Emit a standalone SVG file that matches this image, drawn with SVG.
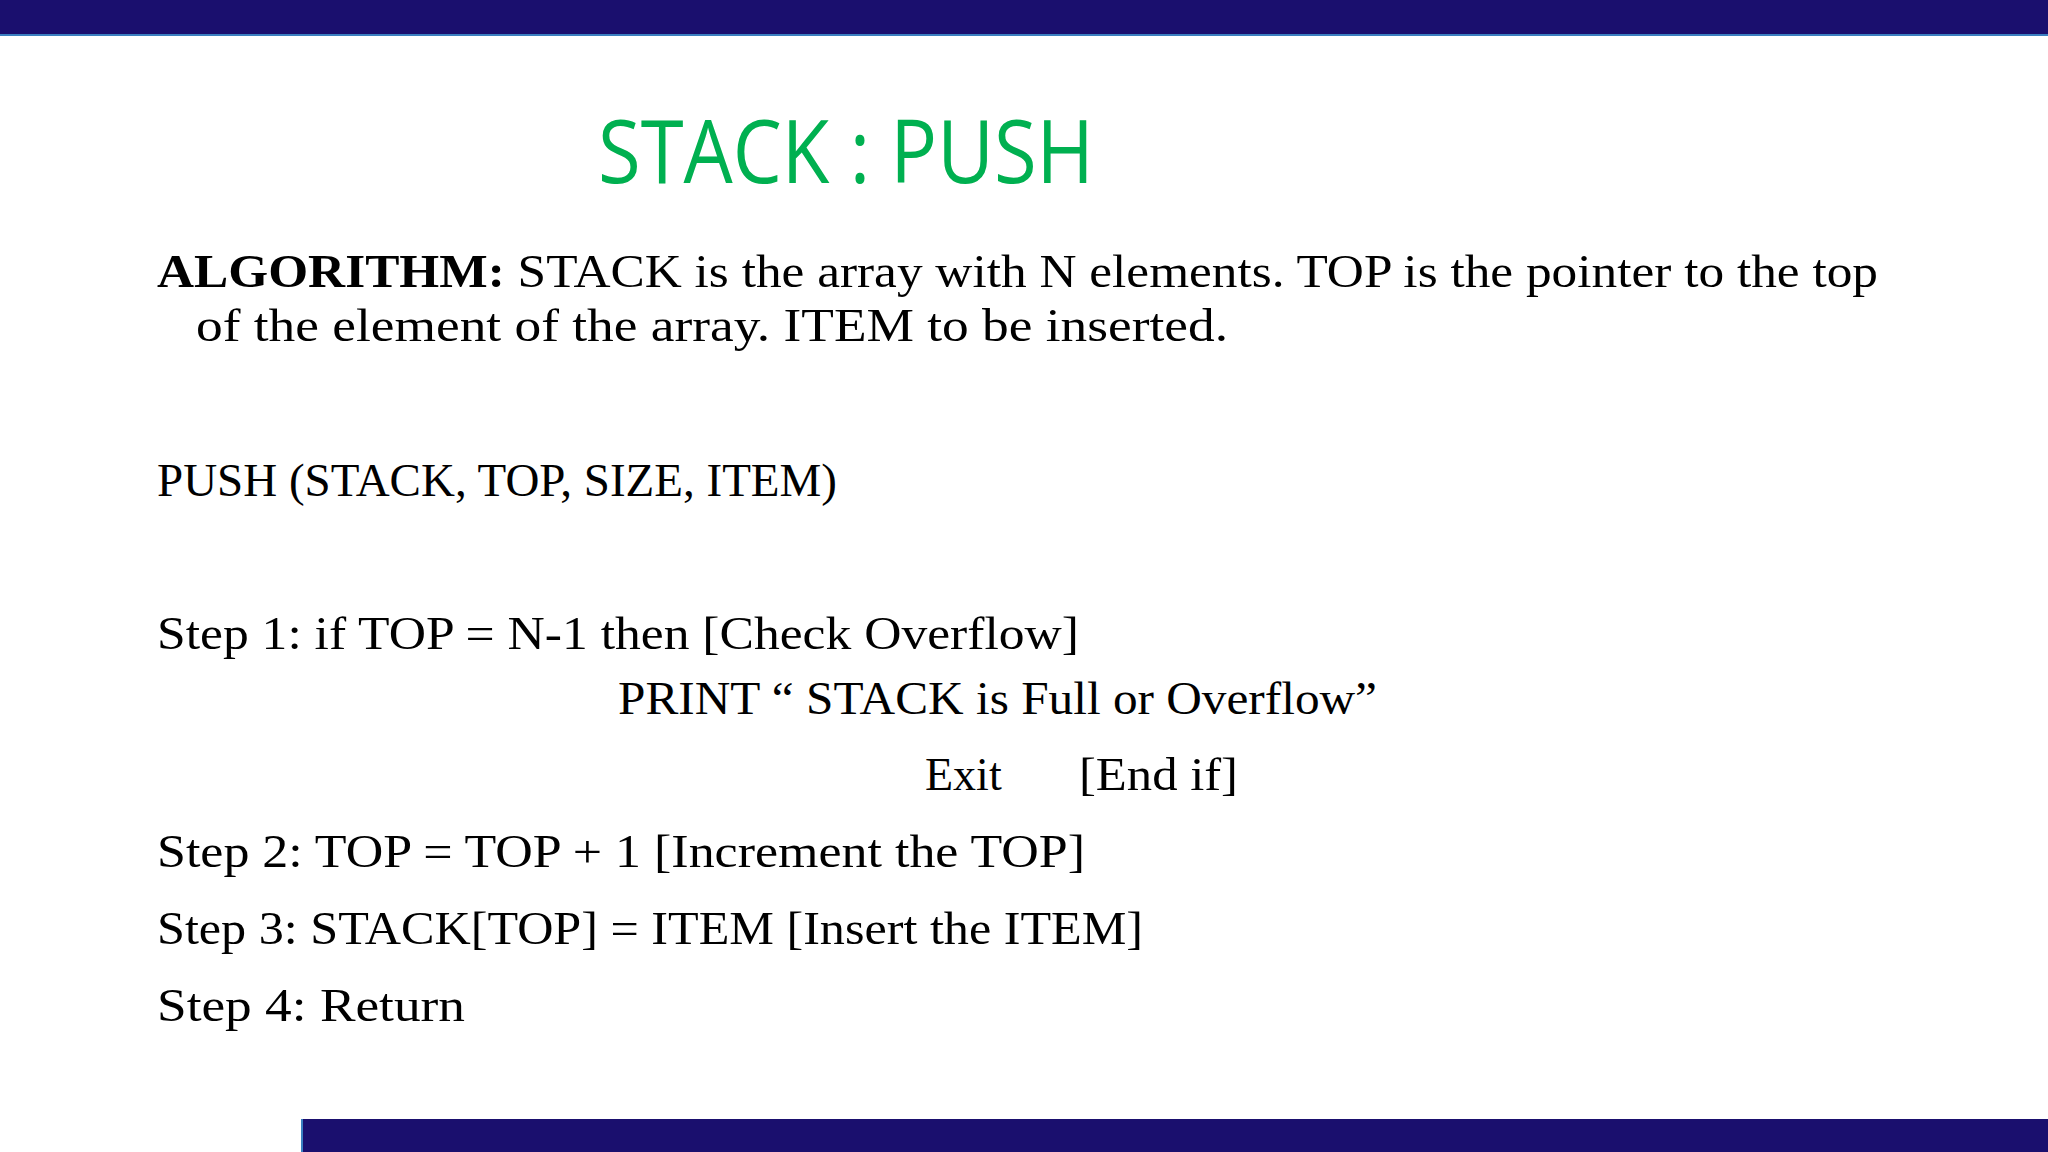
<svg xmlns="http://www.w3.org/2000/svg" width="2048" height="1152" viewBox="0 0 2048 1152">
<style>
.b{font-family:"Liberation Serif","DejaVu Serif",serif;font-size:46px;fill:#000}
.t{font-family:"Open Sans","Liberation Sans",sans-serif;font-size:88px;fill:#00b050}
</style>
<rect width="2048" height="1152" fill="#fff"/>
<g id="bars">
<rect x="0" y="0" width="2048" height="34" fill="#1a0f6e"/>
<rect x="0" y="34" width="2048" height="2" fill="#3a7fc0"/>
<rect x="303" y="1119" width="1745" height="33" fill="#1a0f6e"/>
<rect x="301" y="1119" width="2" height="33" fill="#3a7fc0"/>
</g>
<g id="title"><text class="t" x="598" y="183" textLength="496" lengthAdjust="spacingAndGlyphs">STACK : PUSH</text></g>
<g id="body">
<text class="b" x="157" y="287" textLength="1721" lengthAdjust="spacingAndGlyphs"><tspan font-weight="bold">ALGORITHM:</tspan> STACK is the array with N elements. TOP is the pointer to the top</text>
<text class="b" x="196" y="341" textLength="1032" lengthAdjust="spacingAndGlyphs">of the element of the array. ITEM to be inserted.</text>
<text class="b" x="157" y="496" textLength="680" lengthAdjust="spacingAndGlyphs">PUSH (STACK, TOP, SIZE, ITEM)</text>
<text class="b" x="157" y="649" textLength="922" lengthAdjust="spacingAndGlyphs">Step 1: if TOP = N-1 then [Check Overflow]</text>
<text class="b" x="618" y="714" textLength="759" lengthAdjust="spacingAndGlyphs">PRINT “ STACK is Full or Overflow”</text>
<text class="b" x="925" y="790">Exit</text>
<text class="b" x="1079" y="790" textLength="159" lengthAdjust="spacingAndGlyphs">[End if]</text>
<text class="b" x="157" y="867" textLength="928" lengthAdjust="spacingAndGlyphs">Step 2: TOP = TOP + 1 [Increment the TOP]</text>
<text class="b" x="157" y="944" textLength="986" lengthAdjust="spacingAndGlyphs">Step 3: STACK[TOP] = ITEM [Insert the ITEM]</text>
<text class="b" x="157" y="1021" textLength="308" lengthAdjust="spacingAndGlyphs">Step 4: Return</text>
</g>
</svg>
